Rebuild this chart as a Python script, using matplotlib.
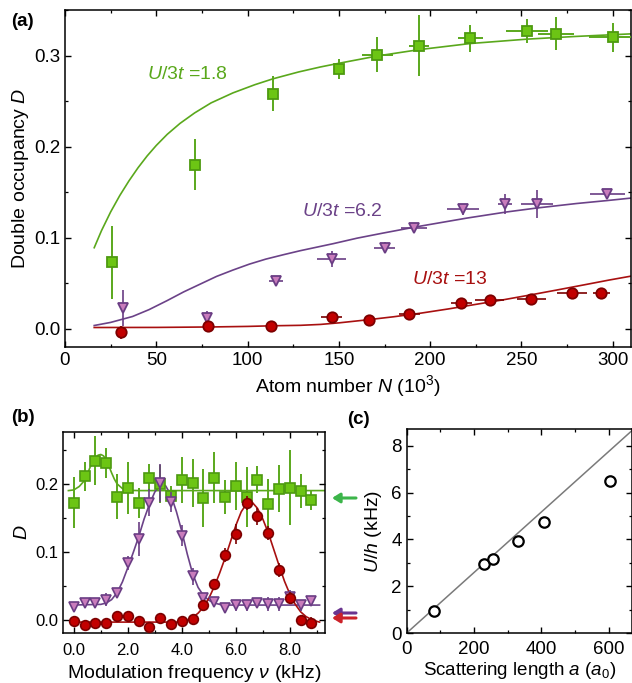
import matplotlib
matplotlib.use('Agg')
import matplotlib.pyplot as plt
from matplotlib.ticker import MultipleLocator, FormatStrFormatter
from matplotlib.patches import FancyArrowPatch

plt.rcParams['font.family'] = ['Liberation Sans', 'DejaVu Sans']
plt.rcParams['mathtext.fontset'] = 'custom'
plt.rcParams['mathtext.rm'] = 'Liberation Sans'
plt.rcParams['mathtext.it'] = 'Liberation Sans:italic'
plt.rcParams['mathtext.bf'] = 'Liberation Sans:bold'

# ---------------- panel (a) data ----------------
N_green = [26, 71, 114, 150, 171, 194, 222, 253, 269, 300]
D_green = [0.073, 0.180, 0.258, 0.285, 0.301, 0.311, 0.319, 0.327, 0.324, 0.320]
Nerr_green = [0, 0, 0, 0, 8.5, 5.5, 7, 11.5, 10, 13]
Derr_green = [0.040, 0.028, 0.019, 0.011, 0.019, 0.033, 0.015, 0.013, 0.018, 0.016]

N_purple = [31.6, 78, 115.5, 146, 175, 191, 218, 241, 258.5, 297]
D_purple = [0.023, 0.012, 0.052, 0.0765, 0.089, 0.111, 0.131, 0.137, 0.137, 0.148]
Nerr_purple = [0, 0, 4, 8, 6, 7, 9, 4, 9, 9.5]
Derr_purple = [0.020, 0.007, 0.003, 0.009, 0.006, 0.005, 0.006, 0.011, 0.015, 0.004]

N_red = [30.5, 78.4, 113, 146, 166.6, 188.5, 217, 232.6, 255.4, 277.7, 293.7]
D_red = [-0.004, 0.003, 0.0036, 0.0124, 0.0099, 0.0165, 0.028, 0.0318, 0.0326, 0.039, 0.0388]
Nerr_red = [0, 0, 0, 5.7, 3, 5.7, 5.7, 7.8, 7.8, 8.2, 4.7]
Derr_red = [0.007, 0.007, 0.002, 0.003, 0.002, 0.003, 0.003, 0.003, 0.003, 0.004, 0.004]

# theory curves
Nc_green = [16, 20, 25, 30, 35, 40, 45, 50, 56, 63, 71, 80, 92, 104, 114, 128, 140, 150, 171,
            194, 222, 253, 280, 310]
Dc_green = [0.089, 0.1078, 0.1283, 0.1463, 0.1623, 0.1768, 0.1898, 0.2013, 0.2135, 0.2255, 0.237,
            0.248, 0.259, 0.268, 0.2745, 0.282, 0.2875, 0.2915, 0.2995, 0.3065, 0.3132, 0.318,
            0.321, 0.3238]
Nc_purple = [16, 25, 37, 46, 56, 65, 74, 83, 92, 101, 110, 120, 129, 147, 160, 174, 192, 220, 242,
             258, 280, 297, 310]
Dc_purple = [0.0036, 0.007, 0.0135, 0.021, 0.031, 0.0405, 0.049, 0.0575, 0.0645, 0.071, 0.0765,
             0.0815, 0.0858, 0.0935, 0.0995, 0.105, 0.1118, 0.1215, 0.1283, 0.1325, 0.1375, 0.1408,
             0.1435]
Nc_red = [16, 50, 80, 100, 114, 129, 140, 150, 165, 180, 195, 210, 225, 240, 255, 270, 285, 298,
          310]
Dc_red = [0.0014, 0.0015, 0.002, 0.0026, 0.0033, 0.0038, 0.0048, 0.0065, 0.0097, 0.0132, 0.0172,
          0.0218, 0.0268, 0.0318, 0.0372, 0.0428, 0.0485, 0.0535, 0.0578]

# ---------------- panel (b) data ----------------
nu = [0.0, 0.4, 0.8, 1.2, 1.6, 2.0, 2.4, 2.8, 3.2, 3.6, 4.0, 4.4, 4.8, 5.2, 5.6, 6.0, 6.4, 6.8,
      7.2, 7.6, 8.0, 8.4, 8.8]
Db_green = [0.1725, 0.211, 0.234, 0.231, 0.181, 0.194, 0.172, 0.209, 0.200, 0.182, 0.206, 0.201,
            0.179, 0.209, 0.181, 0.197, 0.180, 0.206, 0.170, 0.193, 0.194, 0.189, 0.176]
Db_green_err = [0.038, 0.021, 0.036, 0.022, 0.033, 0.038, 0.022, 0.020, 0.028, 0.015, 0.034, 0.035,
                0.042, 0.037, 0.025, 0.035, 0.044, 0.020, 0.037, 0.034, 0.055, 0.025, 0.015]
Db_purple = [0.0196, 0.0245, 0.025, 0.030, 0.039, 0.084, 0.119, 0.172, 0.201, 0.173, 0.124, 0.064,
             0.032, 0.027, 0.017, 0.022, 0.022, 0.025, 0.0235, 0.0235, 0.034, 0.022, 0.028]
Db_purple_err = [0.005, 0.006, 0.006, 0.010, 0.007, 0.010, 0.025, 0.020, 0.028, 0.015, 0.015, 0.012,
                 0.008, 0.006, 0.006, 0.008, 0.008, 0.006, 0.010, 0.010, 0.010, 0.008, 0.006]
Db_red = [-0.001, -0.0074, -0.005, -0.005, 0.0064, 0.006, -0.001, -0.0098, 0.0025, -0.0064, -0.0015,
          0.0015, 0.022, 0.0525, 0.0956, 0.126, 0.172, 0.152, 0.1275, 0.0735, 0.033, 0.0, -0.004]
Db_red_err = [0.006, 0.006, 0.008, 0.005, 0.006, 0.006, 0.007, 0.006, 0.007, 0.005, 0.005, 0.005,
              0.008, 0.008, 0.010, 0.015, 0.010, 0.012, 0.010, 0.010, 0.008, 0.006, 0.008]

nuc_green = [-0.2, 0.0, 0.2, 0.4, 0.5, 0.6, 0.7, 0.8, 0.9, 1.0, 1.1, 1.2, 1.3, 1.4, 1.5, 1.6, 1.8,
             2.0, 2.4, 9.3]
Dc_b_green = [0.190, 0.191, 0.196, 0.205, 0.214, 0.224, 0.232, 0.238, 0.242, 0.243, 0.241, 0.235,
              0.226, 0.216, 0.207, 0.200, 0.193, 0.1905, 0.190, 0.190]
nuc_purple = [-0.1, 1.0, 1.2, 1.4, 1.6, 1.8, 2.0, 2.2, 2.4, 2.6, 2.8, 3.0, 3.2, 3.4, 3.6, 3.8, 4.0,
              4.2, 4.4, 4.6, 4.8, 5.0, 5.2, 5.4, 5.6, 9.1]
Dc_b_purple = [0.022, 0.023, 0.025, 0.030, 0.040, 0.056, 0.077, 0.099, 0.122, 0.148, 0.170, 0.188,
               0.198, 0.197, 0.183, 0.159, 0.130, 0.097, 0.068, 0.048, 0.036, 0.029, 0.025, 0.023,
               0.022, 0.022]
nuc_red = [-0.1, 3.8, 4.0, 4.2, 4.4, 4.6, 4.8, 5.0, 5.2, 5.4, 5.6, 5.8, 6.0, 6.2, 6.4, 6.6, 6.8,
           7.0, 7.2, 7.4, 7.6, 7.8, 8.0, 8.2, 8.4, 8.6, 8.8, 9.0, 9.1]
Dc_b_red = [-0.003, -0.003, -0.002, 0.000, 0.004, 0.010, 0.019, 0.032, 0.049, 0.069, 0.091, 0.115,
            0.139, 0.159, 0.171, 0.173, 0.164, 0.148, 0.128, 0.104, 0.080, 0.057, 0.038, 0.023,
            0.012, 0.005, 0.001, -0.002, -0.003]

# ---------------- panel (c) data ----------------
a_scat = [80, 229, 256, 330, 409, 603]
U_h = [0.92, 2.96, 3.17, 3.95, 4.73, 6.51]
a_fit = [0, 670]
U_fit = [0, 8.66]

# colours
g_fill, g_edge, g_line = '#6cc514', '#4d9a10', '#5aa81c'
p_fill, p_edge, p_line = '#c97cbc', '#6a3d84', '#6b4288'
r_fill, r_edge, r_line = '#c20000', '#7c0000', '#a81010'

W, H = 632, 683
fig = plt.figure(figsize=(W / 100, H / 100), dpi=100)

TICK = 13.5
LAB = 14


def style(ax, fs):
    ax.tick_params(which='both', direction='in', top=True, right=True, labelsize=fs)
    ax.tick_params(which='major', length=4, width=1)
    ax.tick_params(which='minor', length=2.2, width=0.9)
    for s in ax.spines.values():
        s.set_linewidth(1.1)


# ---- (a) ----
axa = fig.add_axes([65 / W, 1 - 347 / H, (631 - 65) / W, (347 - 10) / H])
axa.plot(Nc_green, Dc_green, color=g_line, lw=1.2, zorder=2)
axa.plot(Nc_purple, Dc_purple, color=p_line, lw=1.2, zorder=2)
axa.plot(Nc_red, Dc_red, color=r_line, lw=1.2, zorder=2)
axa.errorbar(N_green, D_green, xerr=Nerr_green, yerr=Derr_green, fmt='s', ms=7.5, mfc=g_fill,
             mec=g_edge, mew=1.3, ecolor=g_line, elinewidth=1.4, capsize=0, zorder=3)
axa.errorbar(N_purple, D_purple, xerr=Nerr_purple, yerr=Derr_purple, fmt='v', ms=7.5, mfc=p_fill,
             mec=p_edge, mew=1.3, ecolor=p_edge, elinewidth=1.2, capsize=0, zorder=3)
axa.errorbar(N_red, D_red, xerr=Nerr_red, yerr=Derr_red, fmt='o', ms=7.5, mfc=r_fill,
             mec=r_edge, mew=1.3, ecolor=r_edge, elinewidth=1.2, capsize=0, zorder=3)
axa.set_xlim(0, 310)
axa.set_ylim(-0.02, 0.35)
axa.xaxis.set_major_locator(MultipleLocator(50))
axa.xaxis.set_minor_locator(MultipleLocator(25))
axa.yaxis.set_major_locator(MultipleLocator(0.1))
axa.yaxis.set_minor_locator(MultipleLocator(0.05))
axa.yaxis.set_major_formatter(FormatStrFormatter('%.1f'))
style(axa, TICK)
axa.set_xlabel(r'Atom number $N$ (10$^3$)', fontsize=LAB, labelpad=3)
axa.set_ylabel(r'Double occupancy $D$', fontsize=LAB, labelpad=2)
axa.text(45, 0.279, r'$U/3t$ =1.8', color=g_line, fontsize=LAB, va='center')
axa.text(130, 0.129, r'$U/3t$ =6.2', color=p_line, fontsize=LAB, va='center')
axa.text(190, 0.054, r'$U/3t$ =13', color=r_line, fontsize=LAB, va='center')

# ---- (b) ----
axb = fig.add_axes([63 / W, 1 - 633 / H, (325 - 63) / W, (633 - 432) / H])
axb.plot(nuc_green, Dc_b_green, color=g_line, lw=1.2, zorder=2)
axb.plot(nuc_purple, Dc_b_purple, color=p_line, lw=1.2, zorder=2)
axb.plot(nuc_red, Dc_b_red, color=r_line, lw=1.2, zorder=2)
axb.errorbar(nu, Db_green, yerr=Db_green_err, fmt='s', ms=7, mfc=g_fill, mec=g_edge, mew=1.2,
             ecolor=g_line, elinewidth=1.4, capsize=0, zorder=3)
axb.errorbar(nu, Db_purple, yerr=Db_purple_err, fmt='v', ms=7, mfc=p_fill, mec=p_edge, mew=1.2,
             ecolor=p_edge, elinewidth=1.2, capsize=0, zorder=4)
axb.errorbar(nu, Db_red, yerr=Db_red_err, fmt='o', ms=7, mfc=r_fill, mec=r_edge, mew=1.2,
             ecolor=r_edge, elinewidth=1.2, capsize=0, zorder=5)
axb.set_xlim(-0.4, 9.3)
axb.set_ylim(-0.019, 0.276)
axb.xaxis.set_major_locator(MultipleLocator(2))
axb.xaxis.set_minor_locator(MultipleLocator(1))
axb.xaxis.set_major_formatter(FormatStrFormatter('%.1f'))
axb.yaxis.set_major_locator(MultipleLocator(0.1))
axb.yaxis.set_minor_locator(MultipleLocator(0.05))
axb.yaxis.set_major_formatter(FormatStrFormatter('%.1f'))
style(axb, 12)
axb.tick_params(axis='x', which='major', pad=7)
axb.set_xlabel(r'Modulation frequency $\nu$ (kHz)', fontsize=LAB, labelpad=4)
axb.set_ylabel(r'$D$', fontsize=LAB, labelpad=3)

# arrows (level markers to the right of panel b)
for yy, col in [(498, '#3cb54a'), (613, '#6a3590'), (618, '#cc2229')]:
    arr = FancyArrowPatch((356 / W, 1 - yy / H), (332 / W, 1 - yy / H), transform=fig.transFigure,
                          arrowstyle='-|>,head_length=4.5,head_width=2.8', lw=2.2, color=col,
                          mutation_scale=1, shrinkA=0, shrinkB=0)
    fig.patches.append(arr)

# ---- (c) ----
axc = fig.add_axes([406.7 / W, 1 - 633 / H, (631.5 - 406.7) / W, (633 - 429) / H])
axc.plot(a_fit, U_fit, color='#7a7a7a', lw=1.1, zorder=2)
axc.plot(a_scat, U_h, 'o', ms=7.5, mfc='white', mec='black', mew=1.6, zorder=3)
axc.set_xlim(0, 668)
axc.set_ylim(0, 8.72)
axc.xaxis.set_major_locator(MultipleLocator(200))
axc.xaxis.set_minor_locator(MultipleLocator(100))
axc.yaxis.set_major_locator(MultipleLocator(2))
axc.yaxis.set_minor_locator(MultipleLocator(1))
style(axc, TICK)
axc.tick_params(axis='x', which='major', pad=6)
axc.set_xlabel(r'Scattering length $a$ ($a_0$)', fontsize=13.5, labelpad=1.5)
axc.set_ylabel(r'$U/h$ (kHz)', fontsize=LAB, labelpad=5)

fig.text(22 / W, 1 - 21 / H, '(a)', fontweight='bold', fontsize=13.5, ha='center', va='center')
fig.text(23 / W, 1 - 418 / H, '(b)', fontweight='bold', fontsize=13.5, ha='center', va='center')
fig.text(358 / W, 1 - 420 / H, '(c)', fontweight='bold', fontsize=13.5, ha='center', va='center')

fig.savefig('out.png', dpi=100)
